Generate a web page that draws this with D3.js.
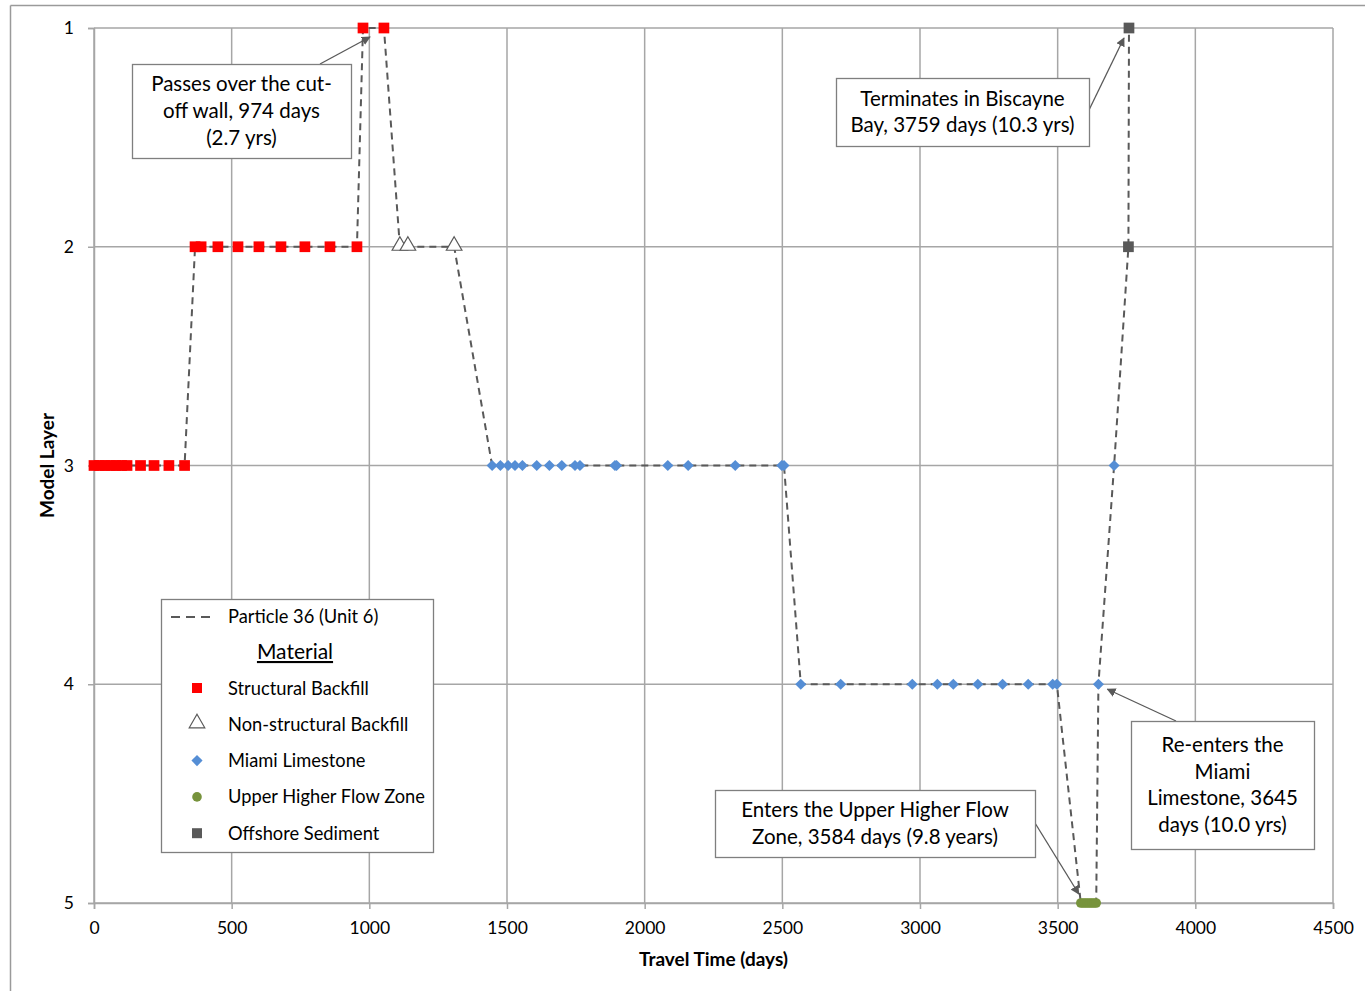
<!DOCTYPE html>
<html>
<head>
<meta charset="utf-8">
<script src="https://cdn.jsdelivr.net/npm/d3@7"></script>
<style>
  body { margin: 0; background: #fff; overflow: hidden; }
  text { font-family: Lato, "Open Sans", sans-serif; fill: #000; }
</style>
</head>
<body>
<div id="chart"></div>
<script>
// Travel time (days) and model layer for each material along the particle path
const structuralDays = [0, 20, 40, 60, 80, 100, 120, 169, 218, 272, 329,
  367, 389, 450, 523, 599, 679, 766, 857, 955, 977, 1053];
const structuralLayers = [3, 3, 3, 3, 3, 3, 3, 3, 3, 3, 3,
  2, 2, 2, 2, 2, 2, 2, 2, 2, 1, 1];
const nonStructDays = [1111, 1140, 1308];
const nonStructLayers = [2, 2, 2];
const limestoneDays = [1446, 1476, 1504, 1529, 1556, 1608, 1654, 1699, 1747, 1765,
  1892, 1898, 2084, 2158, 2329, 2498, 2506,
  2567, 2712, 2972, 3063, 3121, 3210, 3300, 3393, 3482, 3497,
  3648, 3705];
const limestoneLayers = [3, 3, 3, 3, 3, 3, 3, 3, 3, 3,
  3, 3, 3, 3, 3, 3, 3,
  4, 4, 4, 4, 4, 4, 4, 4, 4, 4,
  4, 3];
const uhfzDays = [3584, 3592, 3600, 3608, 3616, 3624, 3632, 3640];
const uhfzLayers = [5, 5, 5, 5, 5, 5, 5, 5];
const offshoreDays = [3757, 3759];
const offshoreLayers = [2, 1];

const xTicks = [0, 500, 1000, 1500, 2000, 2500, 3000, 3500, 4000, 4500];
const yTicks = [1, 2, 3, 4, 5];

const seriesName = "Particle 36 (Unit 6)";
const materials = ["Structural Backfill", "Non-structural Backfill", "Miami Limestone",
  "Upper Higher Flow Zone", "Offshore Sediment"];

const width = 1366, height = 992;
const margin = { top: 28, right: 33, bottom: 89, left: 94 };
const innerWidth = width - margin.left - margin.right;
const innerHeight = height - margin.top - margin.bottom;

const lineColor = "#595959";
const gridColor = "#a6a6a6";

const svg = d3.select("#chart").append("svg")
  .attr("width", width)
  .attr("height", height)
  .style("display", "block");

// chart area border: only its left and top edges fall inside the picture
svg.append("line")
  .attr("x1", 10.5).attr("x2", 10.5)
  .attr("y1", 5.5).attr("y2", height - 1)
  .attr("stroke", "#9a9a9a").attr("stroke-width", 1.5);
svg.append("line")
  .attr("x1", 10.5).attr("x2", width - 1)
  .attr("y1", 5.5).attr("y2", 5.5)
  .attr("stroke", "#9a9a9a").attr("stroke-width", 1.5);

const g = svg.append("g")
  .attr("transform", `translate(${margin.left},${margin.top})`);

const x = d3.scaleLinear().domain([0, 4500]).range([0, innerWidth]);
const y = d3.scaleLinear().domain([1, 5]).range([0, innerHeight]);

// grid lines
g.append("g").selectAll("line")
  .data(xTicks)
  .join("line")
  .attr("x1", d => x(d)).attr("x2", d => x(d))
  .attr("y1", 0).attr("y2", innerHeight)
  .attr("stroke", gridColor).attr("stroke-width", 1.5);
g.append("g").selectAll("line")
  .data(yTicks)
  .join("line")
  .attr("x1", 0).attr("x2", innerWidth)
  .attr("y1", d => y(d)).attr("y2", d => y(d))
  .attr("stroke", gridColor).attr("stroke-width", 1.5);

// axes
const xAxis = g.append("g")
  .attr("transform", `translate(0,${innerHeight})`)
  .call(d3.axisBottom(x).tickValues(xTicks).tickSize(6).tickPadding(13).tickFormat(d3.format("d")));
const yAxis = g.append("g")
  .call(d3.axisLeft(y).tickValues(yTicks).tickSize(6).tickPadding(14).tickFormat(d3.format("d")));
[xAxis, yAxis].forEach(a => {
  a.attr("font-size", 17.5).attr("font-family", "Lato, sans-serif");
  a.select(".domain").attr("stroke", gridColor).attr("stroke-width", 1.5);
  a.selectAll(".tick line").attr("stroke", gridColor).attr("stroke-width", 1.5);
  a.selectAll("text").attr("font-size", 17.5).attr("fill", "#000");
});

// particle path through every point, in time order
const pts = [];
structuralDays.forEach((d, i) => pts.push([d, structuralLayers[i]]));
nonStructDays.forEach((d, i) => pts.push([d, nonStructLayers[i]]));
limestoneDays.forEach((d, i) => pts.push([d, limestoneLayers[i]]));
uhfzDays.forEach((d, i) => pts.push([d, uhfzLayers[i]]));
offshoreDays.forEach((d, i) => pts.push([d, offshoreLayers[i]]));
pts.sort((a, b) => a[0] - b[0]);

const line = d3.line().x(d => x(d[0])).y(d => y(d[1]));
g.append("path")
  .datum(pts)
  .attr("d", line)
  .attr("fill", "none")
  .attr("stroke", lineColor)
  .attr("stroke-width", 2)
  .attr("stroke-dasharray", "7,5");

// markers
const zip = (a, b) => a.map((d, i) => [d, b[i]]);
const squareSym = d3.symbol().type(d3.symbolSquare).size(115);
const diamondSym = d3.symbol().type(d3.symbolSquare).size(62); // rotated 45deg below
const triSym = d3.symbol().type(d3.symbolTriangle).size(105);

g.append("g").selectAll("path")
  .data(zip(structuralDays, structuralLayers))
  .join("path")
  .attr("transform", d => `translate(${x(d[0])},${y(d[1])})`)
  .attr("d", squareSym)
  .attr("fill", "#ff0000");

g.append("g").selectAll("path")
  .data(zip(nonStructDays, nonStructLayers))
  .join("path")
  .attr("transform", d => `translate(${x(d[0])},${y(d[1]) - 1})`)
  .attr("d", triSym)
  .attr("fill", "#fff")
  .attr("stroke", "#595959")
  .attr("stroke-width", 1.2);

g.append("g").selectAll("path")
  .data(zip(limestoneDays, limestoneLayers))
  .join("path")
  .attr("transform", d => `translate(${x(d[0])},${y(d[1])}) rotate(45)`)
  .attr("d", diamondSym)
  .attr("fill", "#558ed5");

g.append("g").selectAll("circle")
  .data(zip(uhfzDays, uhfzLayers))
  .join("circle")
  .attr("cx", d => x(d[0]))
  .attr("cy", d => y(d[1]))
  .attr("r", 4.8)
  .attr("fill", "#77933c");

g.append("g").selectAll("path")
  .data(zip(offshoreDays, offshoreLayers))
  .join("path")
  .attr("transform", d => `translate(${x(d[0])},${y(d[1])})`)
  .attr("d", squareSym)
  .attr("fill", "#595959");

// axis titles
svg.append("text")
  .attr("text-anchor", "middle")
  .attr("x", margin.left + innerWidth / 2)
  .attr("y", 966)
  .attr("font-size", 19)
  .attr("font-weight", "bold")
  .text("Travel Time (days)");
svg.append("text")
  .attr("text-anchor", "middle")
  .attr("transform", `translate(54,${margin.top + innerHeight / 2}) rotate(-90)`)
  .attr("font-size", 19)
  .attr("font-weight", "bold")
  .text("Model Layer");

// arrowhead
svg.append("defs").append("marker")
  .attr("id", "arrow")
  .attr("viewBox", "0 0 10 10")
  .attr("refX", 9).attr("refY", 5)
  .attr("markerWidth", 9).attr("markerHeight", 9)
  .attr("markerUnits", "userSpaceOnUse")
  .attr("orient", "auto")
  .append("path")
  .attr("d", "M0,0L10,5L0,10Z")
  .attr("fill", lineColor);

// annotation callouts: box, text lines, arrow from box to point
const notes = [
  { box: [132, 64, 219, 94], lines: ["Passes over the cut-", "off wall, 974 days", "(2.7 yrs)"],
    from: [320, 64], day: 977, layer: 1, off: [7, 9] },
  { box: [836, 78, 253, 68], lines: ["Terminates in Biscayne", "Bay, 3759 days (10.3 yrs)"],
    from: [1089, 110], day: 3759, layer: 1, off: [-5, 10] },
  { box: [715, 790, 320, 67], lines: ["Enters the Upper Higher Flow", "Zone, 3584 days (9.8 years)"],
    from: [1035, 823], day: 3584, layer: 5, off: [-2, -9] },
  { box: [1131, 721, 183, 128], lines: ["Re-enters the", "Miami", "Limestone, 3645", "days (10.0 yrs)"],
    from: [1176, 721], day: 3648, layer: 4, off: [9, 5] }
];
notes.forEach(n => {
  const [bx, by, bw, bh] = n.box;
  svg.append("line")
    .attr("x1", n.from[0]).attr("y1", n.from[1])
    .attr("x2", margin.left + x(n.day) + n.off[0])
    .attr("y2", margin.top + y(n.layer) + n.off[1])
    .attr("stroke", lineColor)
    .attr("stroke-width", 1.3)
    .attr("marker-end", "url(#arrow)");
  svg.append("rect")
    .attr("x", bx + 0.5).attr("y", by + 0.5)
    .attr("width", bw).attr("height", bh)
    .attr("fill", "#fff")
    .attr("stroke", "#7f7f7f")
    .attr("stroke-width", 1.3);
  const lh = 26.7;
  const top = by + bh / 2 - (n.lines.length - 1) * lh / 2 + 7;
  n.lines.forEach((t, i) => {
    svg.append("text")
      .attr("text-anchor", "middle")
      .attr("x", bx + bw / 2)
      .attr("y", top + i * lh)
      .attr("font-size", 20.5)
      .text(t);
  });
});

// legend
const lg = svg.append("g").attr("transform", "translate(161,599)");
lg.append("rect")
  .attr("x", 0.5).attr("y", 0.5)
  .attr("width", 272).attr("height", 253)
  .attr("fill", "#fff")
  .attr("stroke", "#7f7f7f")
  .attr("stroke-width", 1.3);
lg.append("line")
  .attr("x1", 10).attr("x2", 54)
  .attr("y1", 18).attr("y2", 18)
  .attr("stroke", lineColor)
  .attr("stroke-width", 2)
  .attr("stroke-dasharray", "9,6");
lg.append("text")
  .attr("x", 67).attr("y", 24)
  .attr("font-size", 18.3)
  .text(seriesName);
lg.append("text")
  .attr("x", 134).attr("y", 60)
  .attr("text-anchor", "middle")
  .attr("font-size", 21)
  .attr("text-decoration", "underline")
  .text("Material");

const legendRows = lg.selectAll("g.row")
  .data(materials)
  .join("g")
  .attr("class", "row")
  .attr("transform", (d, i) => `translate(0,${89 + i * 36.3})`);
legendRows.append("text")
  .attr("x", 67).attr("y", 6.5)
  .attr("font-size", 18.3)
  .text(d => d);
legendRows.each(function (d, i) {
  const r = d3.select(this);
  if (i === 0) {
    r.append("path").attr("transform", "translate(36,0)").attr("d", d3.symbol().type(d3.symbolSquare).size(100)).attr("fill", "#ff0000");
  } else if (i === 1) {
    r.append("path").attr("transform", "translate(36,-1)").attr("d", triSym).attr("fill", "#fff").attr("stroke", "#595959").attr("stroke-width", 1.2);
  } else if (i === 2) {
    r.append("path").attr("transform", "translate(36,0) rotate(45)").attr("d", diamondSym).attr("fill", "#558ed5");
  } else if (i === 3) {
    r.append("circle").attr("cx", 36).attr("cy", 0).attr("r", 4.8).attr("fill", "#77933c");
  } else {
    r.append("path").attr("transform", "translate(36,0)").attr("d", d3.symbol().type(d3.symbolSquare).size(100)).attr("fill", "#595959");
  }
});
</script>
</body>
</html>
